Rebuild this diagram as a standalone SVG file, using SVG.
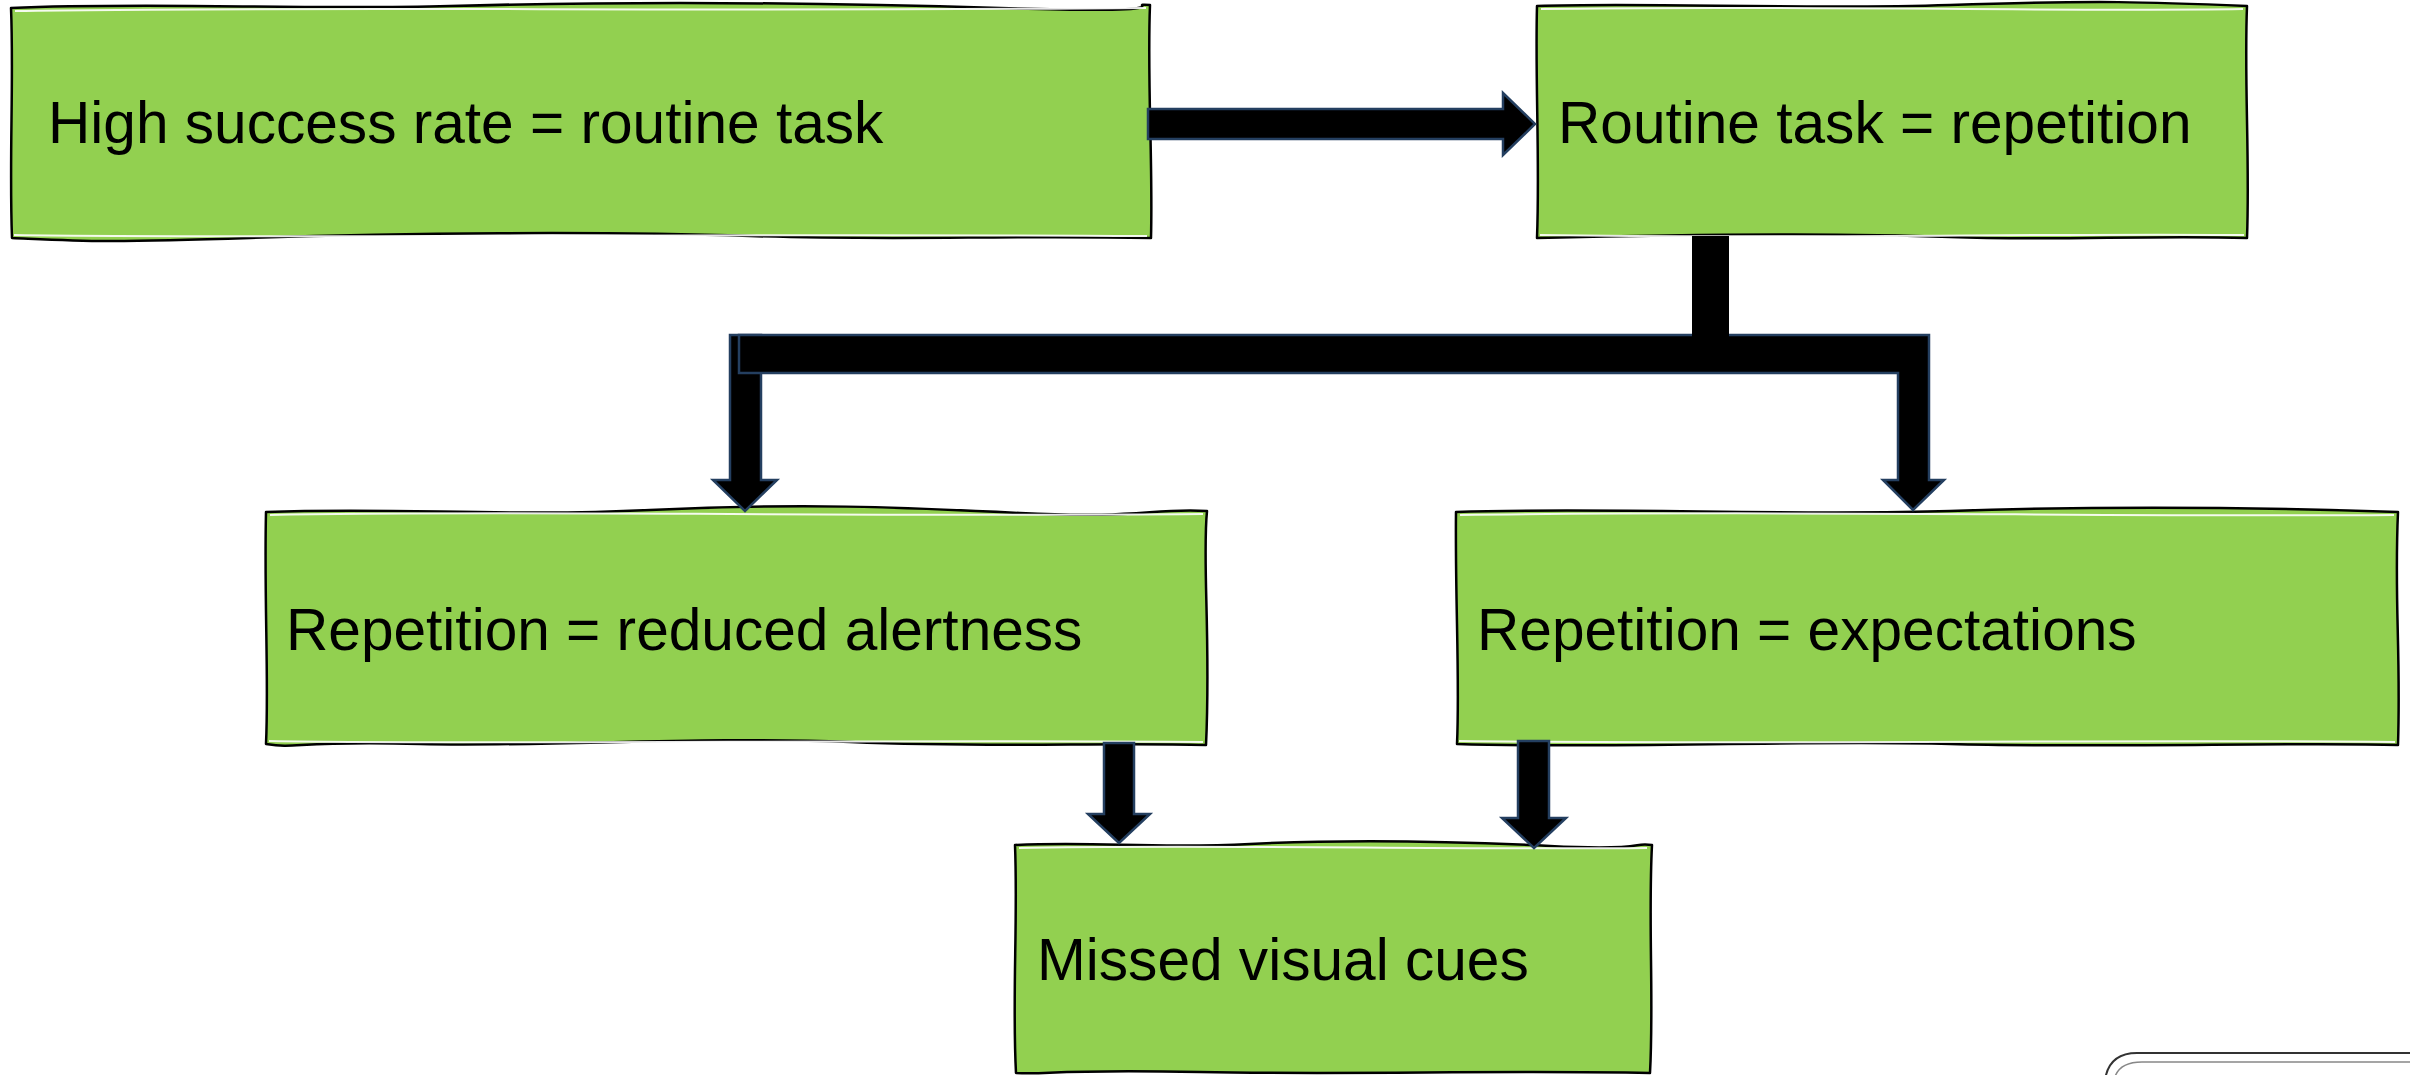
<svg xmlns="http://www.w3.org/2000/svg" width="2410" height="1075" viewBox="0 0 2410 1075">
<style>
.box{fill:#92D050;stroke:#000;stroke-width:2.5;stroke-linejoin:round}
.sk{fill:none;stroke:#fff;stroke-width:2;opacity:0.9}
.lbl{font-family:"Liberation Sans",Arial,sans-serif;font-size:58.6px;fill:#000}
.arr{fill:#000;stroke:#243F60;stroke-width:2.5;stroke-linejoin:miter}
</style>
<rect x="0" y="0" width="2410" height="1075" fill="#fff"/>
<g id="node-high-success">
<path class="box" d="M11,8 C150,2 300,10 450,6 S800,2 1000,8 S1120,3 1150,5 C1147,80 1153,160 1151,238 C1000,235 900,241 750,236 S400,233 250,238 S80,241 12,238 C9,160 14,80 11,8 Z"/>
<path class="sk" d="M15,11 C300,6 700,12 1146,8 M14,235 C300,239 700,233 1147,236"/>
<text class="lbl" x="48" y="143">High success rate = routine task</text>
</g>
<g id="node-routine">
<path class="box" d="M1537,6 C1650,2 1800,10 1950,5 S2150,2 2247,6 C2244,80 2250,160 2247,238 C2150,235 2050,241 1950,237 S1700,234 1537,238 C1540,160 1535,80 1537,6 Z"/>
<path class="sk" d="M1541,9 C1800,5 2050,12 2243,9 M1540,235 C1800,239 2050,233 2244,235"/>
<text class="lbl" x="1558" y="143">Routine task = repetition</text>
</g>
<g id="node-reduced-alertness">
<path class="box" d="M266,512 C400,507 500,517 650,510 S900,507 1020,513 S1150,508 1207,511 C1202,560 1211,640 1206,745 C1100,742 1000,748 850,742 S550,747 420,744 S300,749 266,744 C269,680 264,600 266,512 Z"/>
<path class="sk" d="M270,515 C500,510 800,517 1203,514 M269,741 C500,745 900,739 1203,742"/>
<text class="lbl" x="286" y="650">Repetition = reduced alertness</text>
</g>
<g id="node-expectations">
<path class="box" d="M1456,512 C1600,507 1800,516 1950,511 S2250,507 2398,512 C2394,600 2401,650 2398,745 C2300,742 2100,748 1950,744 S1600,749 1457,744 C1460,680 1455,600 1456,512 Z"/>
<path class="sk" d="M1460,515 C1800,510 2100,517 2394,515 M1459,741 C1800,745 2100,739 2395,742"/>
<text class="lbl" x="1477" y="650">Repetition = expectations</text>
</g>
<g id="node-missed-cues">
<path class="box" d="M1015,845 C1100,841 1150,849 1250,844 S1450,841 1550,846 S1630,842 1652,845 C1648,920 1654,1000 1650,1073 C1500,1070 1350,1075 1200,1072 S1050,1075 1016,1073 C1012,1000 1018,920 1015,845 Z"/>
<path class="sk" d="M1019,848 C1200,844 1450,850 1647,848"/>
<text class="lbl" x="1037" y="980">Missed visual cues</text>
</g>
<g id="connectors">
<polygon class="arr" points="1148,109 1503,109 1503,93 1535,124 1503,155 1503,139 1148,139"/>
<polygon class="arr" points="730,335 761,335 761,480 777,480 745,511 713,480 730,480"/>
<polygon class="arr" points="739,335 1929,335 1929,480 1944,480 1913,510 1883,480 1898,480 1898,373 739,373"/>
<rect x="1692" y="236" width="37" height="101" fill="#000"/>
<polygon class="arr" points="1104,743 1134,743 1134,814 1150,814 1119,843 1088,814 1104,814"/>
<polygon class="arr" points="1518,741 1549,741 1549,818 1566,818 1534,848 1502,818 1518,818"/>
</g>
<g id="corner-mark" fill="none">
<path d="M2105,1080 Q2109,1053 2137,1053 L2420,1053" stroke="#333" stroke-width="2"/>
<path d="M2114,1080 Q2118,1062 2142,1062 L2420,1062" stroke="#888" stroke-width="1.5"/>
</g>
</svg>
